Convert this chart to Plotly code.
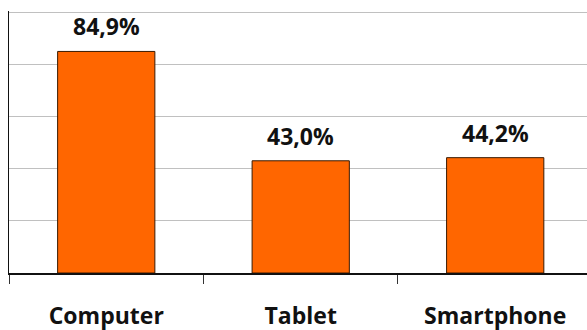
import plotly.graph_objects as go

categories = ["Computer", "Tablet", "Smartphone"]
values = [84.9, 43.0, 44.2]
labels = ["84,9%", "43,0%", "44,2%"]

FONT = "Open Sans"

fig = go.Figure(go.Bar(
    x=categories, y=values,
    marker=dict(color="#FF6600", line=dict(color="#3a1a00", width=1)),
))

for c, v, t in zip(categories, values, labels):
    fig.add_annotation(x=c, y=v, text=t, showarrow=False, yanchor="bottom",
                       yshift=7, font=dict(family=FONT, size=23, color="#111111", weight="bold"))

fig.update_layout(
    width=587, height=330,
    margin=dict(l=9, r=0, t=11, b=57),
    plot_bgcolor="white", paper_bgcolor="white",
    bargap=0.5, showlegend=False,
    font=dict(family=FONT, color="#111111"),
)
fig.update_xaxes(
    range=[-0.5, 2.472], tickson="boundaries", automargin=False,
    ticks="outside", ticklen=9, tickcolor="#333333",
    showline=True, linecolor="#111111", linewidth=1.5,
    tickfont=dict(family=FONT, size=23, color="#111111", weight="bold"),
    ticklabelstandoff=22,
)
fig.update_yaxes(
    range=[0, 100.4], dtick=20, showticklabels=False, automargin=False,
    showgrid=True, gridcolor="#c0c0c0", gridwidth=1,
    showline=True, linecolor="#111111", linewidth=1,
    zeroline=False,
)

fig.write_html("out.html")
